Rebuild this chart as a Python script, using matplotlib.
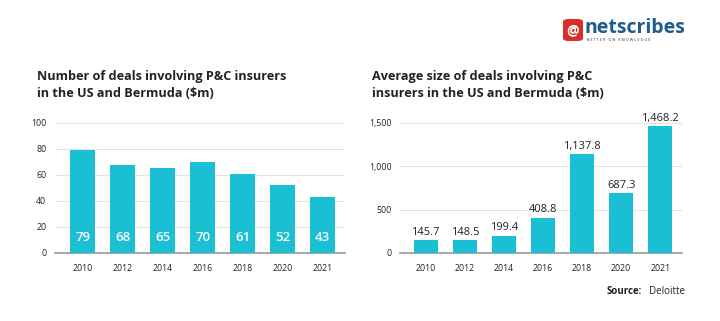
import matplotlib.pyplot as plt
from matplotlib.patches import FancyBboxPatch

years = ['2010', '2012', '2014', '2016', '2018', '2020', '2021']
deal_counts = [79, 68, 65, 70, 61, 52, 43]
deal_sizes = [145.7, 148.5, 199.4, 408.8, 1137.8, 687.3, 1468.2]
size_labels = ['145.7', '148.5', '199.4', '408.8', '1,137.8', '687.3', '1,468.2']

bar_color = '#1bbfd3'
text_color = '#222222'
grid_color = '#e3e3e3'

plt.rcParams['font.family'] = ['Open Sans', 'DejaVu Sans']

fig = plt.figure(figsize=(7.2, 3.21), dpi=100)

x = list(range(len(years)))

# left chart: number of deals
ax1 = fig.add_axes([0.076, 0.212, 0.403, 0.405])
ax1.bar(x, deal_counts, width=0.62, color=bar_color, zorder=3)
for xi, v in zip(x, deal_counts):
    ax1.text(xi, 12, str(v), ha='center', va='center', color='white',
             fontsize=9.5, fontweight='semibold', zorder=4)
ax1.set_ylim(0, 100)
ax1.set_yticks([0, 20, 40, 60, 80, 100])
ax1.set_xlim(-0.7, 6.55)

# right chart: average deal size
ax2 = fig.add_axes([0.556, 0.212, 0.391, 0.405])
ax2.bar(x, deal_sizes, width=0.62, color=bar_color, zorder=3)
for xi, v, lab in zip(x, deal_sizes, size_labels):
    ax2.text(xi, v + 25, lab, ha='center', va='bottom', color=text_color,
             fontsize=8, zorder=4)
ax2.set_ylim(0, 1500)
ax2.set_yticks([0, 500, 1000, 1500])
ax2.set_yticklabels(['0', '500', '1,000', '1,500'])
ax2.set_xlim(-0.65, 6.55)

for ax in (ax1, ax2):
    ax.set_xticks(x)
    ax.set_xticklabels(years)
    ax.tick_params(axis='both', length=0, labelsize=6.3, colors=text_color)
    ax.tick_params(axis='x', pad=8)
    ax.tick_params(axis='y', pad=6)
    ax.grid(axis='y', color=grid_color, linewidth=0.8, zorder=0)
    for s in ['top', 'right', 'left']:
        ax.spines[s].set_visible(False)
    ax.spines['bottom'].set_color('#9a9a9a')
    ax.spines['bottom'].set_linewidth(1.2)
    ax.set_axisbelow(True)

# titles
fig.text(37 / 720, 1 - 85 / 321, 'Number of deals involving P&C insurers\nin the US and Bermuda ($m)',
         ha='left', va='center', fontsize=9.1, fontweight='bold', color=text_color, linespacing=1.38)
fig.text(372 / 720, 1 - 85 / 321, 'Average size of deals involving P&C\ninsurers in the US and Bermuda ($m)',
         ha='left', va='center', fontsize=9.1, fontweight='bold', color=text_color, linespacing=1.38)

# source
fig.text(607 / 720, 1 - 292 / 321, 'Source:', ha='left', va='center', fontsize=7,
         fontweight='bold', color=text_color)
fig.text(649 / 720, 1 - 292 / 321, 'Deloitte', ha='left', va='center', fontsize=7,
         color=text_color)

# logo
icon = FancyBboxPatch((563 / 720, 1 - 41 / 321), 20 / 720, 22 / 321,
                      boxstyle='round,pad=0,rounding_size=0.008',
                      transform=fig.transFigure, facecolor='#d6302c', edgecolor='none')
fig.patches.append(icon)
fig.text(573 / 720, 1 - 30 / 321, '@', ha='center', va='center', fontsize=10,
         fontweight='bold', color='white')
fig.text(585 / 720, 1 - 28 / 321, 'netscribes', ha='left', va='center', fontsize=14,
         fontweight='bold', color='#1d5c8c')
fig.text(587 / 720, 1 - 40 / 321, 'B E T T E R   O N   K N O W L E D G E', ha='left', va='center',
         fontsize=2.8, color='#333333')

fig.savefig('out.png', dpi=100, facecolor='white')
